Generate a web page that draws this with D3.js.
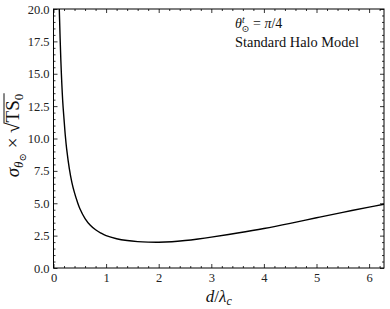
<!DOCTYPE html>
<html>
<head>
<meta charset="utf-8">
<script src="https://cdn.jsdelivr.net/npm/d3@7"></script>
<style>
  body { margin: 0; background: #fff; }
  svg { display: block; }
  .tick text { font-family: "Liberation Serif", "DejaVu Serif", serif; font-size: 12.5px; fill: #222; }
  .tick line { stroke: #000; stroke-width: 0.8; }
</style>
</head>
<body>
<div id="graph"></div>
<script>
// sigma curve: d / lambda_c  vs  sigma * sqrt(TS0)
var dVals = [0.11, 0.14, 0.175, 0.2, 0.224, 0.25, 0.3, 0.35, 0.4, 0.45, 0.5, 0.6, 0.7, 0.8, 0.9,
             1.0, 1.2, 1.4, 1.6, 1.8, 2.0, 2.25, 2.5, 2.75, 3.0, 3.5, 4.0, 4.5, 5.0, 5.5, 6.0, 6.283];
var sigmaVals = [20.0, 16.0, 12.9, 11.5, 10.25, 9.2, 7.7, 6.6, 5.8, 5.15, 4.6, 3.82, 3.3, 2.95, 2.7,
                 2.5, 2.26, 2.12, 2.04, 2.0, 1.99, 2.03, 2.12, 2.24, 2.38, 2.7, 3.05, 3.45, 3.88, 4.3, 4.7, 4.92];
var xTicks = [0, 1, 2, 3, 4, 5, 6];
var yTicks = [0, 2.5, 5, 7.5, 10, 12.5, 15, 17.5, 20];

var margin = {top: 9, right: 6, bottom: 41, left: 53.5};
var width = 390 - margin.left - margin.right;
var height = 309 - margin.top - margin.bottom;

var svg = d3.select("#graph").append("svg")
    .attr("width", 390)
    .attr("height", 309);

var g = svg.append("g")
    .attr("transform", "translate(" + margin.left + "," + margin.top + ")");

var xScale = d3.scaleLinear().domain([0, 2 * Math.PI]).range([0, width]);
var yScale = d3.scaleLinear().domain([0, 20]).range([height, 0]);

var xMinor = d3.range(0, 6.3, 0.2).filter(function(v) { return Math.abs(v - Math.round(v)) > 1e-6; });
var yMinor = d3.range(0, 20.01, 0.5).filter(function(v) { return Math.abs(v / 2.5 - Math.round(v / 2.5)) > 1e-6; });

// major ticks with labels (bottom, left)
g.append("g")
    .attr("transform", "translate(0," + height + ")")
    .call(d3.axisBottom(xScale).tickValues(xTicks).tickSize(-4).tickPadding(5).tickFormat(d3.format("d")));
g.append("g")
    .call(d3.axisLeft(yScale).tickValues(yTicks).tickSize(-4).tickPadding(4).tickFormat(d3.format(".1f")));
// top and right major ticks
g.append("g")
    .call(d3.axisTop(xScale).tickValues(xTicks).tickSize(-4).tickFormat(""));
g.append("g")
    .attr("transform", "translate(" + width + ",0)")
    .call(d3.axisRight(yScale).tickValues(yTicks).tickSize(-4).tickFormat(""));
// minor ticks all around
g.append("g")
    .attr("transform", "translate(0," + height + ")")
    .call(d3.axisBottom(xScale).tickValues(xMinor).tickSize(-2).tickFormat(""));
g.append("g")
    .call(d3.axisTop(xScale).tickValues(xMinor).tickSize(-2).tickFormat(""));
g.append("g")
    .call(d3.axisLeft(yScale).tickValues(yMinor).tickSize(-2).tickFormat(""));
g.append("g")
    .attr("transform", "translate(" + width + ",0)")
    .call(d3.axisRight(yScale).tickValues(yMinor).tickSize(-2).tickFormat(""));

g.selectAll(".domain").remove();

// the curve
var data = dVals.map(function(d, i) { return {d: d, s: sigmaVals[i]}; });
var line = d3.line()
    .x(function(p) { return xScale(p.d); })
    .y(function(p) { return yScale(p.s); })
    .curve(d3.curveCatmullRom.alpha(0.5));

g.append("clipPath").attr("id", "clip")
    .append("rect").attr("width", width).attr("height", height);

g.append("path")
    .datum(data)
    .attr("clip-path", "url(#clip)")
    .attr("fill", "none")
    .attr("stroke", "#000")
    .attr("stroke-width", 1.4)
    .attr("d", line);

// frame
g.append("rect")
    .attr("width", width)
    .attr("height", height)
    .attr("fill", "none")
    .attr("stroke", "#000")
    .attr("stroke-width", 1);

var serif = '"Liberation Serif", "DejaVu Serif", serif';

// x label
var xl = svg.append("text")
    .attr("x", margin.left + width / 2)
    .attr("y", 302)
    .attr("text-anchor", "middle")
    .style("font-family", serif)
    .style("font-size", "17px")
    .attr("fill", "#111");
xl.append("tspan").style("font-style", "italic").text("d");
xl.append("tspan").text("/");
xl.append("tspan").style("font-style", "italic").text("λ");
xl.append("tspan").style("font-style", "italic").style("font-size", "12px").attr("dy", 3).text("c");

// y label, rotated
var yg = svg.append("g")
    .attr("transform", "translate(19," + (margin.top + height / 2 - 3) + ") rotate(-90)");
var yl = yg.append("text")
    .style("font-family", serif)
    .style("font-size", "19px")
    .attr("fill", "#111");
yl.append("tspan").style("font-style", "italic").text("σ");
yl.append("tspan").style("font-style", "italic").style("font-size", "13px").attr("dy", 4).text("θ");
yl.append("tspan").style("font-size", "10px").attr("dy", 3).text("⊙");
yl.append("tspan").attr("dy", -7).text(" × √");
var tsSpan = yl.append("tspan").text("TS");
yl.append("tspan").style("font-size", "13px").attr("dy", 4).text("0");

var bb = yl.node().getBBox();
yl.attr("x", -bb.width / 2);
// overline of the square root over "TS0"
var tsStart = tsSpan.node().getStartPositionOfChar(0).x;
var endX = yl.node().getBBox().x + yl.node().getBBox().width;
yg.append("line")
    .attr("x1", tsStart - 1)
    .attr("x2", endX + 0.5)
    .attr("y1", -15)
    .attr("y2", -15)
    .attr("stroke", "#111")
    .attr("stroke-width", 1);

// annotation
var ann = svg.append("text")
    .attr("x", 235)
    .attr("y", 28)
    .style("font-family", serif)
    .style("font-size", "14px")
    .attr("fill", "#111");
ann.append("tspan").style("font-style", "italic").text("θ");
ann.append("tspan").style("font-style", "italic").style("font-size", "9.5px").attr("dy", -5).text("t");
ann.append("tspan").style("font-size", "9.5px").attr("dx", -3).attr("dy", 9).text("⊙");
ann.append("tspan").attr("dy", -4).text(" = ");
ann.append("tspan").style("font-style", "italic").text("π");
ann.append("tspan").text("/4");

svg.append("text")
    .attr("x", 235)
    .attr("y", 47)
    .style("font-family", serif)
    .style("font-size", "14.4px")
    .attr("fill", "#111")
    .text("Standard Halo Model");
</script>
</body>
</html>
